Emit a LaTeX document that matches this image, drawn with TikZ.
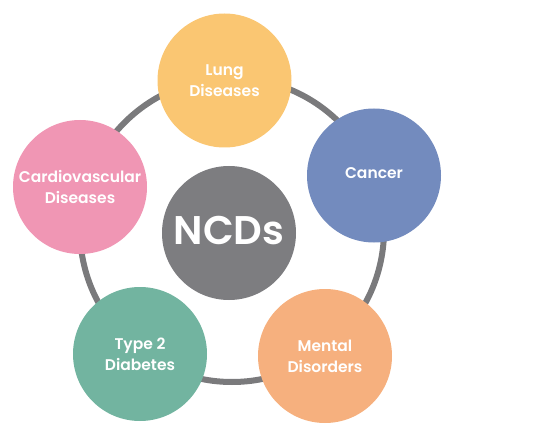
\documentclass[tikz,border=0pt]{standalone}
\usepackage{fontspec}
\setmainfont{Poppins}[BoldFont={* SemiBold}]
\usetikzlibrary{calc}
\definecolor{ringgray}{RGB}{122,122,124}
\definecolor{ncdgray}{RGB}{125,125,128}
\definecolor{lungyellow}{RGB}{250,198,114}
\definecolor{cancerblue}{RGB}{115,139,190}
\definecolor{cardiopink}{RGB}{240,150,180}
\definecolor{diabteal}{RGB}{114,180,160}
\definecolor{mentalorange}{RGB}{246,176,126}
\tikzset{disc/.style={circle,minimum size=134pt,inner sep=0pt,text=white,align=center,font=\bfseries\fontsize{15.5}{21}\selectfont}}
\begin{document}
\begin{tikzpicture}[x=1pt,y=-1pt]
		\newcommand{\R}{152} %ring radius
		\useasboundingbox (0,0) rectangle (560,433);
		\coordinate (hub) at (232,230); %ring centre
		\draw[ringgray,line width=6pt] (hub) circle (\R);
		\node[disc,fill=ncdgray,font=\bfseries\fontsize{40}{40}\selectfont] (ncds) at (229,233) {\raisebox{5pt}{NCDs}}; %centre
		\foreach \name/\x/\y/\col/\txt in {lung/224.5/80.5/lungyellow/{Lung\\Diseases},
			cancer/374/175.5/cancerblue/{\raisebox{5pt}{Cancer}},
			cardio/80/187/cardiopink/{Cardiovascular\\Diseases},
			diabetes/140/354/diabteal/{Type 2\\Diabetes},
			mental/325/356/mentalorange/{Mental\\Disorders}}{ %outer discs
			\node[disc,fill=\col] (\name) at (\x,\y) {\txt};
		}
	\end{tikzpicture}
\end{document}
